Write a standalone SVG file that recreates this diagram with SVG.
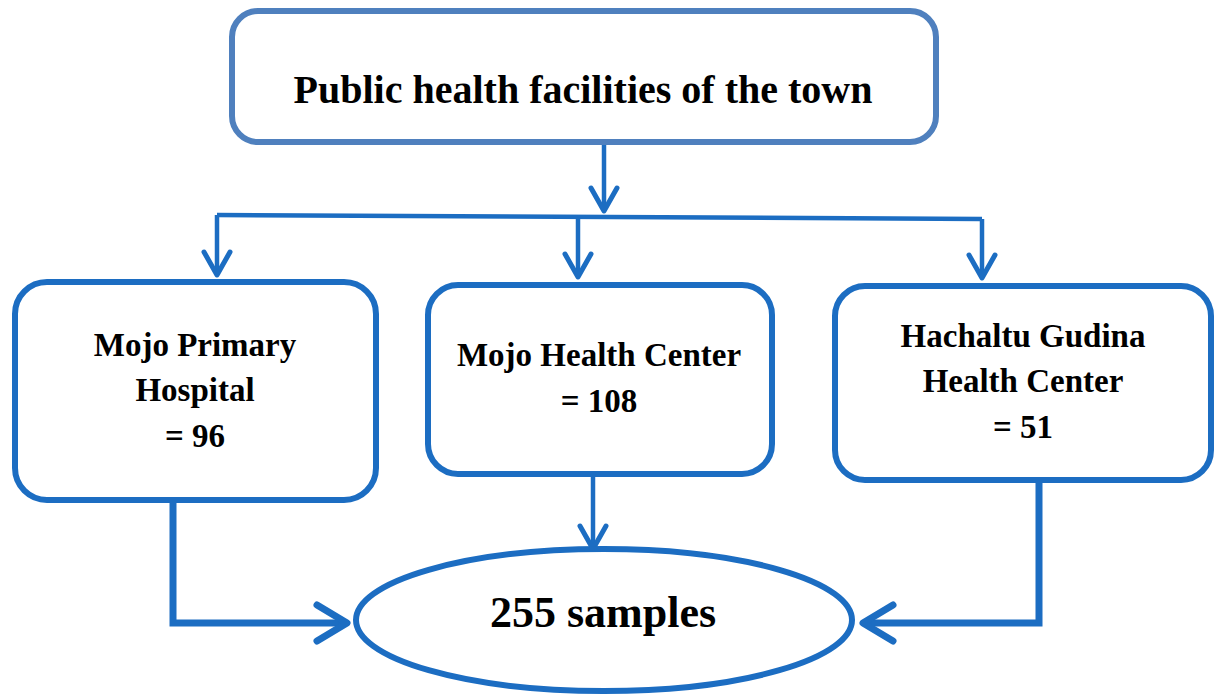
<svg xmlns="http://www.w3.org/2000/svg" width="1217" height="695" viewBox="0 0 1217 695">
<style>
  .box { fill: #ffffff; stroke: #1C6DC2; stroke-width: 6; }
  .top { fill: #ffffff; stroke: #4F80BE; stroke-width: 6; }
  .t { font-family: "Liberation Serif", "Times New Roman", serif; font-weight: bold; fill: #000; text-anchor: middle; }
  .conn { fill: none; stroke: #1C6DC2; stroke-width: 4.5; }
  .thick { fill: none; stroke: #1C6DC2; stroke-width: 7; }
</style>
<defs>
  <marker id="arr" markerUnits="userSpaceOnUse" viewBox="-26 -16 30 32" refX="0" refY="0" markerWidth="30" markerHeight="32" orient="auto">
    <path d="M-23,-13 L0,0 L-23,13" fill="none" stroke="#1C6DC2" stroke-width="5" stroke-linecap="round" stroke-linejoin="round"/>
  </marker>
  <marker id="arrBig" markerUnits="userSpaceOnUse" viewBox="-36 -22 42 44" refX="0" refY="0" markerWidth="42" markerHeight="44" orient="auto">
    <path d="M-30,-18 L0,0 L-30,18" fill="none" stroke="#1C6DC2" stroke-width="7" stroke-linecap="round" stroke-linejoin="round"/>
  </marker>
</defs>
<rect width="1217" height="695" fill="#ffffff"/>

<g id="connectors">
  <path class="conn" d="M604,142 V211" marker-end="url(#arr)"/>
  <path class="conn" d="M217,215 L982,219"/>
  <path class="conn" d="M217,215 V275" marker-end="url(#arr)"/>
  <path class="conn" d="M578,217 V277" marker-end="url(#arr)"/>
  <path class="conn" d="M982,219 V278" marker-end="url(#arr)"/>
  <path class="conn" d="M593,477 V549" marker-end="url(#arr)"/>
  <path class="thick" d="M173,502 V623 H347" marker-end="url(#arrBig)"/>
  <path class="thick" d="M1039,483 V623 H863" marker-end="url(#arrBig)"/>
</g>

<g id="node-top">
  <rect class="top" x="232" y="11" width="704" height="131" rx="26"/>
  <text class="t" x="583" y="103" font-size="40">Public health facilities of the town</text>
</g>

<g id="node-hospital">
  <rect class="box" x="15" y="282" width="361" height="218" rx="32"/>
  <text class="t" x="195" y="356" font-size="33">Mojo Primary</text>
  <text class="t" x="195" y="401" font-size="33">Hospital</text>
  <text class="t" x="195" y="447" font-size="33">= 96</text>
</g>

<g id="node-mojo-hc">
  <rect class="box" x="428" y="285" width="344" height="189" rx="30"/>
  <text class="t" x="599" y="366" font-size="33">Mojo Health Center</text>
  <text class="t" x="599" y="412" font-size="33">= 108</text>
</g>

<g id="node-hachaltu">
  <rect class="box" x="835" y="286" width="376" height="194" rx="30"/>
  <text class="t" x="1023" y="347" font-size="33">Hachaltu Gudina</text>
  <text class="t" x="1023" y="392" font-size="33">Health Center</text>
  <text class="t" x="1023" y="438" font-size="33">= 51</text>
</g>

<g id="node-samples">
  <ellipse class="box" cx="604" cy="620" rx="248" ry="71" stroke-width="5"/>
  <text class="t" x="603" y="627" font-size="44">255 samples</text>
</g>
</svg>
